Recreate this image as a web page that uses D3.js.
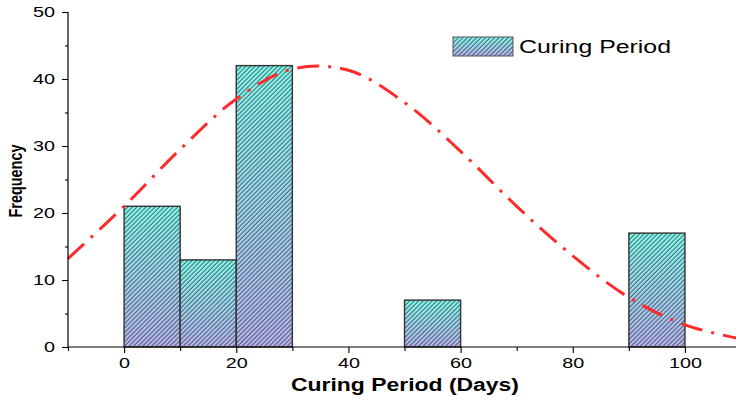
<!DOCTYPE html>
<html>
<head>
<meta charset="utf-8">
<script src="https://cdn.jsdelivr.net/npm/d3@7"></script>
<style>
  body { margin: 0; background: #fff; }
  text { font-family: "Liberation Sans", Arial, sans-serif; }
</style>
</head>
<body>
<script>
// histogram bins (days) and counts
var binStart = [0, 10, 20, 50, 90];
var binEnd = [10, 20, 30, 60, 100];
var counts = [21, 13, 42, 7, 17];

// fitted curve
var curveX = [-10, 0, 10, 20, 30, 40, 50, 60, 70, 80, 90, 100, 110];
var curveY = [13.2, 21, 29.5, 37, 41.5, 41.3, 36.5, 29.2, 21, 13.6, 7.4, 3.3, 1.2];

var xTicks = [0, 20, 40, 60, 80, 100];
var yTicks = [0, 10, 20, 30, 40, 50];

var margin = { top: 12, right: 0, bottom: 54, left: 68 },
  width = 736 - margin.left - margin.right,
  height = 401 - margin.top - margin.bottom;

var x = d3.scaleLinear().domain([-10, 109.1]).range([0, width]);
var y = d3.scaleLinear().domain([0, 50]).range([height, 0]);

var svg = d3.select("body")
  .append("svg")
  .attr("width", 736)
  .attr("height", 401);

var defs = svg.append("defs");

var grad = defs.append("linearGradient")
  .attr("id", "barGrad")
  .attr("x1", 0).attr("y1", 0)
  .attr("x2", 0).attr("y2", 1);
grad.append("stop").attr("offset", "0%").attr("stop-color", "#7ffdf1");
grad.append("stop").attr("offset", "100%").attr("stop-color", "#b6b6f6");

var hatch = defs.append("pattern")
  .attr("id", "hatch")
  .attr("patternUnits", "userSpaceOnUse")
  .attr("width", 3.2)
  .attr("height", 3.2)
  .attr("patternTransform", "rotate(45)");
hatch.append("line")
  .attr("x1", 1).attr("y1", 0)
  .attr("x2", 1).attr("y2", 3.2)
  .style("stroke", "#3a3a3a")
  .style("stroke-width", 0.8);

var g = svg.append("g")
  .attr("transform", "translate(" + margin.left + "," + margin.top + ")");

// bars
var bars = binStart.map(function(d, i) {
  return { x0: d, x1: binEnd[i], n: counts[i] };
});

var barG = g.selectAll(".bar")
  .data(bars)
  .enter().append("g")
  .attr("class", "bar");

barG.append("rect")
  .attr("x", function(d) { return x(d.x0); })
  .attr("y", function(d) { return y(d.n); })
  .attr("width", function(d) { return x(d.x1) - x(d.x0); })
  .attr("height", function(d) { return height - y(d.n); })
  .style("fill", "url(#barGrad)");

barG.append("rect")
  .attr("x", function(d) { return x(d.x0); })
  .attr("y", function(d) { return y(d.n); })
  .attr("width", function(d) { return x(d.x1) - x(d.x0); })
  .attr("height", function(d) { return height - y(d.n); })
  .style("fill", "url(#hatch)")
  .style("stroke", "#333")
  .style("stroke-width", 1.4);

// curve
var line = d3.line()
  .x(function(d) { return x(d[0]); })
  .y(function(d) { return y(d[1]); })
  .curve(d3.curveCatmullRom);

g.append("path")
  .attr("d", line(curveX.map(function(d, i) { return [d, curveY[i]]; })))
  .style("fill", "none")
  .style("stroke", "#ff2b2b")
  .style("stroke-width", 3)
  .style("stroke-dasharray", "22,9,3,9");

// axes
var xAxis = g.append("g")
  .attr("transform", "translate(0," + height + ")")
  .call(d3.axisBottom(x).tickValues(xTicks).tickSize(6).tickPadding(4));

g.append("g")
  .attr("transform", "translate(0," + height + ")")
  .call(d3.axisBottom(x).tickValues(d3.range(-10, 110, 10).filter(function(v) { return v % 20 !== 0; }))
    .tickSize(4).tickFormat(""))
  .select(".domain").remove();

var yAxis = g.append("g")
  .call(d3.axisLeft(y).tickValues(yTicks).tickSize(6).tickPadding(7));

g.append("g")
  .call(d3.axisLeft(y).tickValues([5, 15, 25, 35, 45]).tickSize(3).tickFormat(""))
  .select(".domain").remove();

xAxis.select(".domain").remove();
yAxis.select(".domain").remove();
g.append("line")
  .attr("x1", 0).attr("x2", width)
  .attr("y1", height).attr("y2", height)
  .style("stroke", "#000").style("stroke-width", 1.2);
g.append("line")
  .attr("x1", 0).attr("x2", 0)
  .attr("y1", 0).attr("y2", height)
  .style("stroke", "#000").style("stroke-width", 1.2);

g.selectAll(".tick line").style("stroke", "#000").style("stroke-width", 1.1);
g.selectAll(".tick text")
  .style("font-size", "15px")
  .style("fill", "#000")
  .attr("textLength", function() { return this.textContent.length * 11; })
  .attr("lengthAdjust", "spacingAndGlyphs");

// axis titles
svg.append("text")
  .attr("x", 405)
  .attr("y", 391)
  .attr("text-anchor", "middle")
  .attr("textLength", 228)
  .attr("lengthAdjust", "spacingAndGlyphs")
  .style("font-size", "18px")
  .style("font-weight", "bold")
  .text("Curing Period (Days)");

svg.append("text")
  .attr("transform", "translate(22,181) rotate(-90)")
  .attr("text-anchor", "middle")
  .attr("textLength", 73)
  .attr("lengthAdjust", "spacingAndGlyphs")
  .style("font-size", "19px")
  .style("font-weight", "bold")
  .text("Frequency");

// legend
var legend = svg.append("g").attr("transform", "translate(453,37)");
legend.append("rect")
  .attr("width", 60).attr("height", 19)
  .style("fill", "url(#barGrad)");
legend.append("rect")
  .attr("width", 60).attr("height", 19)
  .style("fill", "url(#hatch)")
  .style("stroke", "#555")
  .style("stroke-width", 1);
legend.append("text")
  .attr("x", 66)
  .attr("y", 16)
  .attr("textLength", 152)
  .attr("lengthAdjust", "spacingAndGlyphs")
  .style("font-size", "18px")
  .text("Curing Period");
</script>
</body>
</html>
